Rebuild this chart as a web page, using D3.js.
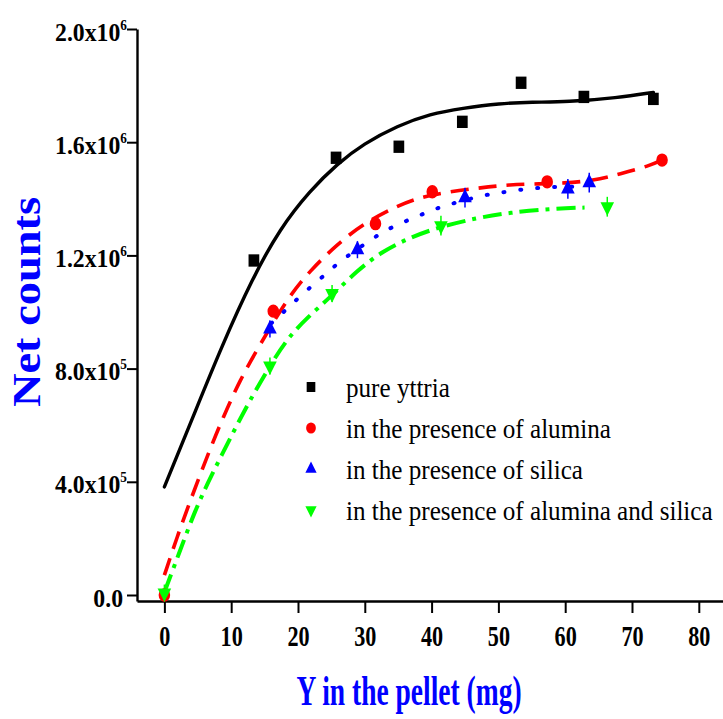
<!DOCTYPE html>
<html>
<head>
<meta charset="utf-8">
<script src="https://cdn.jsdelivr.net/npm/d3@7"></script>
<style>
  body { margin: 0; background: #fff; }
  svg { display: block; }
  text { font-family: "Liberation Serif", "Times New Roman", serif; }
</style>
</head>
<body>
<div id="chart"></div>
<script>
        // Axis ticks
        const xTicks = [0, 10, 20, 30, 40, 50, 60, 70, 80];
        const yTicks = [0, 4e5, 8e5, 1.2e6, 1.6e6, 2.0e6];
        const yTickMantissa = ["0.0", "4.0", "8.0", "1.2", "1.6", "2.0"];
        const yTickExponent = ["", "5", "5", "6", "6", "6"];

        const seriesNames = [
            "pure yttria",
            "in the presence of alumina",
            "in the presence of silica",
            "in the presence of alumina and silica"
        ];
        const seriesColors = ["#000000", "#ff0000", "#0000ff", "#00ff00"];

        // Measured points: Y in the pellet (mg) vs net counts
        const yttriaX = [13.4, 25.7, 35.1, 44.6, 53.4, 62.8, 73.2];
        const yttriaY = [1.182e6, 1.545e6, 1.584e6, 1.672e6, 1.810e6, 1.760e6, 1.753e6];
        const aluminaX = [0, 16.3, 31.6, 40.1, 57.3, 74.5];
        const aluminaY = [0, 1.003e6, 1.312e6, 1.425e6, 1.460e6, 1.537e6];
        const silicaX = [15.8, 28.9, 45.0, 60.4, 63.6];
        const silicaY = [0.940e6, 1.220e6, 1.404e6, 1.435e6, 1.457e6];
        const silicaErr = [0.03e6, 0.03e6, 0.035e6, 0.035e6, 0.035e6];
        const bothX = [0, 15.8, 25.1, 41.4, 66.3];
        const bothY = [0.007e6, 0.809e6, 1.065e6, 1.305e6, 1.372e6];
        const bothErr = [0.03e6, 0.03e6, 0.03e6, 0.035e6, 0.035e6];

        // Fitted curves
        const fitYttria = [[0, 0.382e6], [4.3, 0.630e6], [8.6, 0.880e6], [13.2, 1.12e6], [17.3, 1.295e6],
            [21.8, 1.429e6], [25.9, 1.524e6], [29.8, 1.594e6], [34.9, 1.658e6], [39.8, 1.700e6],
            [44.6, 1.720e6], [50.2, 1.737e6], [55.0, 1.742e6], [60.3, 1.742e6], [67.8, 1.757e6],
            [73.2, 1.776e6]];
        const fitAlumina = [[0, 0.07e6], [1.9, 0.205e6], [3.9, 0.335e6], [6.9, 0.52e6], [8.8, 0.628e6],
            [11.3, 0.759e6], [14.2, 0.88e6], [18.4, 1.048e6], [21.8, 1.146e6], [25.9, 1.24e6],
            [29.8, 1.312e6], [34.9, 1.376e6], [39.4, 1.415e6], [47.3, 1.439e6], [51.7, 1.45e6],
            [56.2, 1.453e6], [59.7, 1.455e6], [64.2, 1.464e6], [68.2, 1.488e6], [72.7, 1.517e6],
            [74.5, 1.537e6]];
        const fitSilica = [[16, 0.96e6], [18.4, 1.012e6], [20.9, 1.069e6], [23.6, 1.122e6], [26.0, 1.175e6],
            [31.1, 1.259e6], [33.5, 1.294e6], [36.3, 1.323e6], [38.8, 1.347e6], [41.3, 1.372e6],
            [46.4, 1.404e6], [48.9, 1.418e6], [51.5, 1.425e6], [54.0, 1.435e6], [56.5, 1.439e6],
            [59.0, 1.443e6], [61.6, 1.443e6]];
        const fitBoth = [[0, 0.01e6], [2.1, 0.141e6], [4.6, 0.30e6], [6.9, 0.416e6], [10.3, 0.575e6],
            [12.8, 0.688e6], [15.8, 0.81e6], [18.4, 0.906e6], [21.4, 0.981e6], [24.8, 1.051e6],
            [28.8, 1.146e6], [32.8, 1.217e6], [36.8, 1.263e6], [40.8, 1.298e6], [46.8, 1.333e6],
            [51.7, 1.351e6], [57.7, 1.365e6], [62.9, 1.369e6]];

        const width = 723, height = 719;

        const svg = d3.select("#chart")
            .append("svg")
            .attr("width", width)
            .attr("height", height);

        // Scales
        const x = d3.scaleLinear().domain([-4.1, 90]).range([137, 765.6]);
        const y = d3.scaleLinear().domain([-0.0212e6, 2.0e6]).range([601, 29]);

        // X axis
        const xAxis = svg.append("g")
            .attr("transform", `translate(0,${y.range()[0]})`)
            .call(d3.axisBottom(x).tickValues(xTicks).tickSize(12).tickSizeOuter(0));
        xAxis.select(".domain").attr("stroke-width", 2.4);
        xAxis.selectAll(".tick line").attr("stroke-width", 2);
        xAxis.selectAll(".tick text")
            .attr("y", null).attr("dy", null)
            .attr("transform", "translate(0,45) scale(0.74,1)")
            .attr("font-size", 30)
            .attr("font-weight", "bold")
            .attr("fill", "#000");

        // Y axis
        const yAxis = svg.append("g")
            .attr("transform", `translate(${x.range()[0]},0)`)
            .call(d3.axisLeft(y).tickValues(yTicks).tickSize(10).tickSizeOuter(0));
        yAxis.select(".domain").attr("stroke-width", 2.4);
        yAxis.selectAll(".tick line").attr("stroke-width", 2);
        yAxis.selectAll(".tick text").each(function (d, i) {
            const t = d3.select(this).text(null)
                .attr("x", null).attr("dy", null)
                .attr("transform", `translate(${yTickExponent[i] ? -10 : -14},11) scale(0.95,1)`)
                .attr("font-size", 25)
                .attr("font-weight", "bold")
                .attr("fill", "#000");
            t.append("tspan").text(yTickExponent[i] ? yTickMantissa[i] + "x10" : yTickMantissa[i]);
            if (yTickExponent[i]) {
                t.append("tspan").attr("font-size", 14).attr("dy", -11).text(yTickExponent[i]);
            }
        });

        // Axis titles
        svg.append("text")
            .attr("transform", "translate(409,705) scale(0.64,1)")
            .attr("text-anchor", "middle")
            .attr("font-size", 43)
            .attr("font-weight", "bold")
            .attr("fill", "#0000ff")
            .text("Y in the pellet (mg)");

        svg.append("text")
            .attr("transform", "translate(40,302) rotate(-90) scale(1.16,1)")
            .attr("text-anchor", "middle")
            .attr("font-size", 40)
            .attr("font-weight", "bold")
            .attr("fill", "#0000ff")
            .text("Net counts");

        // Fitted lines
        const line = d3.line()
            .x(d => x(d[0]))
            .y(d => y(d[1]))
            .curve(d3.curveBasis);

        const fits = [
            { pts: fitYttria, color: seriesColors[0], w: 3.4, dash: null, cap: "round" },
            { pts: fitAlumina, color: seriesColors[1], w: 3.6, dash: "18,10", cap: "butt" },
            { pts: fitSilica, color: seriesColors[2], w: 4, dash: "1,16", cap: "round" },
            { pts: fitBoth, color: seriesColors[3], w: 4, dash: "19,7,4,7", cap: "butt" }
        ];
        fits.forEach(f => {
            svg.append("path")
                .attr("d", line(f.pts))
                .attr("fill", "none")
                .attr("stroke", f.color)
                .attr("stroke-width", f.w)
                .attr("stroke-linecap", f.cap)
                .attr("stroke-dasharray", f.dash);
        });

        // Error bars on the triangles
        function errorBars(xs, ys, errs, color) {
            svg.append("g").selectAll("line")
                .data(xs)
                .enter()
                .append("line")
                .attr("x1", d => x(d))
                .attr("x2", d => x(d))
                .attr("y1", (d, i) => y(ys[i] - errs[i]))
                .attr("y2", (d, i) => y(ys[i] + errs[i]))
                .attr("stroke", color)
                .attr("stroke-width", 1.5);
        }
        errorBars(silicaX, silicaY, silicaErr, seriesColors[2]);
        errorBars(bothX, bothY, bothErr, seriesColors[3]);

        // Markers
        const shapes = [
            { type: d3.symbolSquare, size: 115, rot: 0 },
            { type: d3.symbolCircle, size: 105, rot: 0 },
            { type: d3.symbolTriangle, size: 80, rot: 0 },
            { type: d3.symbolTriangle, size: 80, rot: 180 }
        ];
        const pointSets = [
            [yttriaX, yttriaY], [aluminaX, aluminaY], [silicaX, silicaY], [bothX, bothY]
        ];
        pointSets.forEach((ps, k) => {
            svg.append("g").selectAll("path")
                .data(ps[0])
                .enter()
                .append("path")
                .attr("d", d3.symbol().type(shapes[k].type).size(shapes[k].size))
                .attr("transform", (d, i) => `translate(${x(d)},${y(ps[1][i])}) scale(1,1.15) rotate(${shapes[k].rot})`)
                .attr("fill", seriesColors[k]);
        });

        // Legend
        const legendSizes = [75, 75, 55, 55];
        const legend = svg.append("g");
        seriesNames.forEach((name, k) => {
            const cy = 387 + k * 41;
            legend.append("path")
                .attr("d", d3.symbol().type(shapes[k].type).size(legendSizes[k]))
                .attr("transform", `translate(311,${cy}) scale(1,1.15) rotate(${shapes[k].rot})`)
                .attr("fill", seriesColors[k]);
            legend.append("text")
                .attr("transform", `translate(346,${cy + 10}) scale(0.93,1)`)
                .attr("font-size", 27)
                .attr("fill", "#000")
                .text(name);
        });
</script>
</body>
</html>
